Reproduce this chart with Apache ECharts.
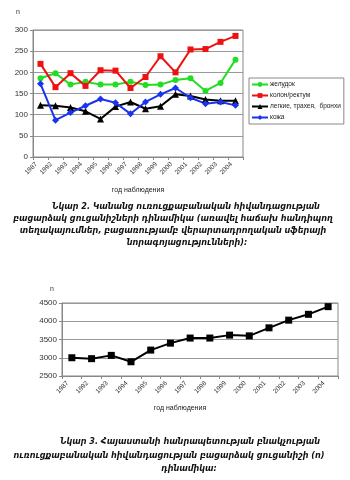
<!DOCTYPE html>
<html><head><meta charset="utf-8">
<script src="https://cdn.jsdelivr.net/npm/echarts@6/dist/echarts.min.js"></script>
<style>html,body{margin:0;padding:0;background:#fff}#c{width:350px;height:480px}</style>
</head><body><div id="c"></div>
<script>
const years = ['1987','1992','1993','1994','1995','1996','1997','1998','1999','2000','2001','2002','2003','2004'];
const stomach = [186,198,171,178,171,171,178,170,171,182,186,156,175,230];
const colon = [220,165,198,168,205,204,163,189,238,200,254,255,272,286];
const lung = [122,121,117,108,90,119,130,114,120,148,144,136,133,133];
const skin = [173,87,105,121,137,128,102,130,148,163,140,126,130,122];
const total = [3000,2975,3065,2890,3210,3400,3540,3540,3620,3600,3820,4030,4190,4400];
const seriesNames = ['желудок','колон/ректум','легкие, трахея,  бронхи','кожа'];
const axisTitle = 'год наблюдения';
const yName = 'n';
const caption2 = [
  'Նկար 2. Կանանց ուռուցքաբանական հիվանդացության',
  'բացարձակ ցուցանիշների դինամիկա (առավել հաճախ հանդիպող',
  'տեղակայումներ, բացառությամբ վերարտադրողական սֆերայի',
  'նորագոյացությունների)։'
];
const caption3 = [
  'Նկար 3. Հայաստանի հանրապետության բնակչության',
  'ուռուցքաբանական հիվանդացության բացարձակ ցուցանիշի (n)',
  'դինամիկա։'
];

const FONT = 'Liberation Sans, Arial, sans-serif';
const CAPFONT = 'DejaVu Sans Condensed, DejaVu Sans, sans-serif';
const chart = echarts.init(document.getElementById('c'), null, {renderer: 'canvas'});

function xAxisCfg(gridIndex, gap, pad) {
  return {
    type: 'category', gridIndex, data: years, boundaryGap: true,
    name: axisTitle, nameLocation: 'middle', nameGap: gap,
    nameTextStyle: {fontSize: 7, color: '#222', fontFamily: FONT, padding: pad},
    axisLine: {lineStyle: {color: '#888', width: 1}},
    axisTick: {show: true, length: 3, lineStyle: {color: '#888'}},
    axisLabel: {rotate: 45, interval: 0, fontSize: 6.5, color: '#333', fontFamily: FONT, margin: 2, padding: [0, 6, 13, 0]},
    splitLine: {show: false}
  };
}
function yAxisCfg(gridIndex, min, max, interval, nameGap, namePad) {
  return {
    type: 'value', gridIndex, min, max, interval,
    name: yName, nameLocation: 'end', nameGap,
    nameTextStyle: {fontSize: 7, color: '#333', fontFamily: FONT, align: 'right', padding: namePad},
    axisLine: {show: true, lineStyle: {color: '#888', width: 1}},
    axisTick: {show: true, length: 3, lineStyle: {color: '#888'}},
    axisLabel: {fontSize: 8, color: '#333', fontFamily: FONT, margin: 5, formatter: v => String(v)},
    splitLine: {show: true, lineStyle: {color: '#999', width: 1}}
  };
}
function lineSeries(name, data, color, symbol, size, xi, yi) {
  return {
    type: 'line', name, data, xAxisIndex: xi, yAxisIndex: yi,
    symbol, symbolSize: size, showSymbol: true,
    lineStyle: {color, width: 2}, itemStyle: {color},
    emphasis: {disabled: true}, animation: false
  };
}

const graphics = [];
const cap2Centers = [186, 173, 173, 187];
const cap2Y = [207, 219, 231, 243];
caption2.forEach((t, i) => graphics.push({type: 'text', x: cap2Centers[i], y: cap2Y[i],
  style: {text: t, font: 'italic bold 9px ' + CAPFONT, fill: '#111', align: 'center', verticalAlign: 'middle'}}));
const cap3Centers = [190, 169, 189];
const cap3Y = [442, 456, 469];
caption3.forEach((t, i) => graphics.push({type: 'text', x: cap3Centers[i], y: cap3Y[i],
  style: {text: t, font: 'italic bold 9px ' + CAPFONT, fill: '#111', align: 'center', verticalAlign: 'middle'}}));

chart.setOption({
  animation: false,
  backgroundColor: '#fff',
  grid: [
    {left: 33, top: 30, width: 210, height: 127, show: true, borderColor: '#888', borderWidth: 1, backgroundColor: 'transparent'},
    {left: 62, top: 303, width: 276, height: 73, show: true, borderColor: '#888', borderWidth: 1, backgroundColor: 'transparent'}
  ],
  xAxis: [xAxisCfg(0, 30, [0, 0, 0, 0]), xAxisCfg(1, 29, [0, 40, 0, 0])],
  yAxis: [yAxisCfg(0, 0, 300, 50, 14, [0, 13, 0, 0]), yAxisCfg(1, 2500, 4500, 500, 10, [0, 8, 0, 0])],
  legend: {
    orient: 'vertical', left: 249, top: 78, width: 91,
    padding: [3, 3, 3, 2], itemGap: 4, itemWidth: 16, itemHeight: 6,
    borderColor: '#888', borderWidth: 1, backgroundColor: '#fff',
    textStyle: {fontSize: 6.5, color: '#222', fontFamily: FONT, padding: [0, 0, 0, -3]},
    data: seriesNames
  },
  series: [
    lineSeries(seriesNames[0], stomach, '#22dd22', 'circle', 6, 0, 0),
    lineSeries(seriesNames[1], colon, '#ee1111', 'rect', 6, 0, 0),
    lineSeries(seriesNames[2], lung, '#000000', 'triangle', 7, 0, 0),
    lineSeries(seriesNames[3], skin, '#1a33ee', 'diamond', 7, 0, 0),
    lineSeries('total', total, '#000000', 'rect', 7, 1, 1)
  ],
  graphic: graphics
});
</script></body></html>
